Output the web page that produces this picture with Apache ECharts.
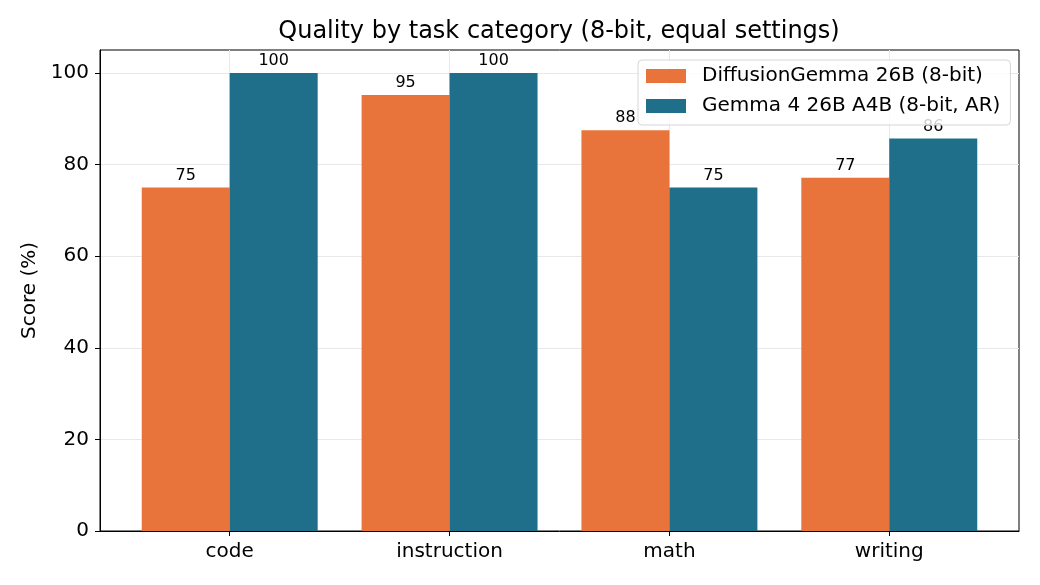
<!DOCTYPE html>
<html>
<head>
<meta charset="utf-8">
<script src="https://cdn.jsdelivr.net/npm/echarts@6/dist/echarts.min.js"></script>
<style>
  html, body { margin: 0; padding: 0; background: #fff; }
  #chart { width: 1040px; height: 585px; }
</style>
</head>
<body>
<div id="chart"></div>
<script>
  // 数据
  const categories = ['code', 'instruction', 'math', 'writing'];
  const diffusionScores = [75, 95.2, 87.5, 77.1];
  const gemmaScores = [100, 100, 75, 85.7];
  const seriesNames = ['DiffusionGemma 26B (8-bit)', 'Gemma 4 26B A4B (8-bit, AR)'];
  const yTicks = [0, 20, 40, 60, 80, 100];

  const font = 'DejaVu Sans, sans-serif';
  const barOffset = 0.2; // 每组两根柱子，各偏移半个柱宽

  function toPoints(values, offset) {
    return values.map((v, i) => [i + offset, v]);
  }

  const labelOpt = {
    show: true,
    position: 'top',
    distance: 4,
    fontSize: 16,
    fontFamily: font,
    color: '#000',
    formatter: (p) => String(Math.round(p.value[1])),
  };

  const option = {
    animation: false,
    backgroundColor: '#fff',
    title: {
      text: 'Quality by task category (8-bit, equal settings)',
      left: 559,
      textAlign: 'center',
      top: 20,
      padding: 0,
      textStyle: { fontSize: 24, fontWeight: 'normal', fontFamily: font, color: '#000' },
    },
    legend: {
      orient: 'vertical',
      left: 638,
      top: 60,
      padding: [6, 10, 9, 8],
      itemWidth: 40,
      itemHeight: 14,
      itemGap: 10,
      backgroundColor: 'rgba(255,255,255,0.8)',
      borderColor: '#d6d6d6',
      borderWidth: 1,
      borderRadius: 4,
      icon: 'rect',
      textStyle: { fontSize: 20, fontFamily: font, color: '#000', padding: [0, 0, 0, 11] },
      data: seriesNames,
    },
    grid: {
      left: 100,
      right: 21,
      top: 50,
      bottom: 54,
      show: true,
      borderColor: '#000',
      borderWidth: 1,
    },
    xAxis: {
      type: 'value',
      min: -0.59,
      max: 3.59,
      axisLine: { show: true, onZero: false, lineStyle: { color: '#000', width: 1 } },
      axisTick: {
        show: true,
        length: 5,
        lineStyle: { color: '#000' },
        customValues: categories.map((c, i) => i),
      },
      axisLabel: {
        customValues: categories.map((c, i) => i),
        formatter: (v) => categories[Math.round(v)],
        fontSize: 20,
        fontFamily: font,
        color: '#000',
        margin: 11,
      },
      splitLine: { show: true, lineStyle: { color: '#e8e8e8', width: 1 } },
    },
    yAxis: {
      type: 'value',
      min: 0,
      max: 105,
      name: 'Score (%)',
      nameLocation: 'middle',
      nameGap: 60,
      nameTextStyle: { fontSize: 20, fontFamily: font, color: '#000' },
      axisLine: { show: true, onZero: false, lineStyle: { color: '#000', width: 1 } },
      axisTick: { show: true, length: 5, lineStyle: { color: '#000' }, customValues: yTicks },
      axisLabel: {
        customValues: yTicks,
        fontSize: 20,
        fontFamily: font,
        color: '#000',
        margin: 11,
      },
      splitLine: { show: true, lineStyle: { color: '#e8e8e8', width: 1 } },
    },
    series: [
      {
        name: seriesNames[0],
        type: 'bar',
        barWidth: 88,
        barGap: '-100%',
        itemStyle: { color: '#E8743B' },
        label: labelOpt,
        data: toPoints(diffusionScores, -barOffset),
      },
      {
        name: seriesNames[1],
        type: 'bar',
        barWidth: 88,
        barGap: '-100%',
        itemStyle: { color: '#1F6F8B' },
        label: labelOpt,
        data: toPoints(gemmaScores, barOffset),
      },
    ],
  };

  const chart = echarts.init(document.getElementById('chart'), null, { renderer: 'canvas' });
  chart.setOption(option);
</script>
</body>
</html>
